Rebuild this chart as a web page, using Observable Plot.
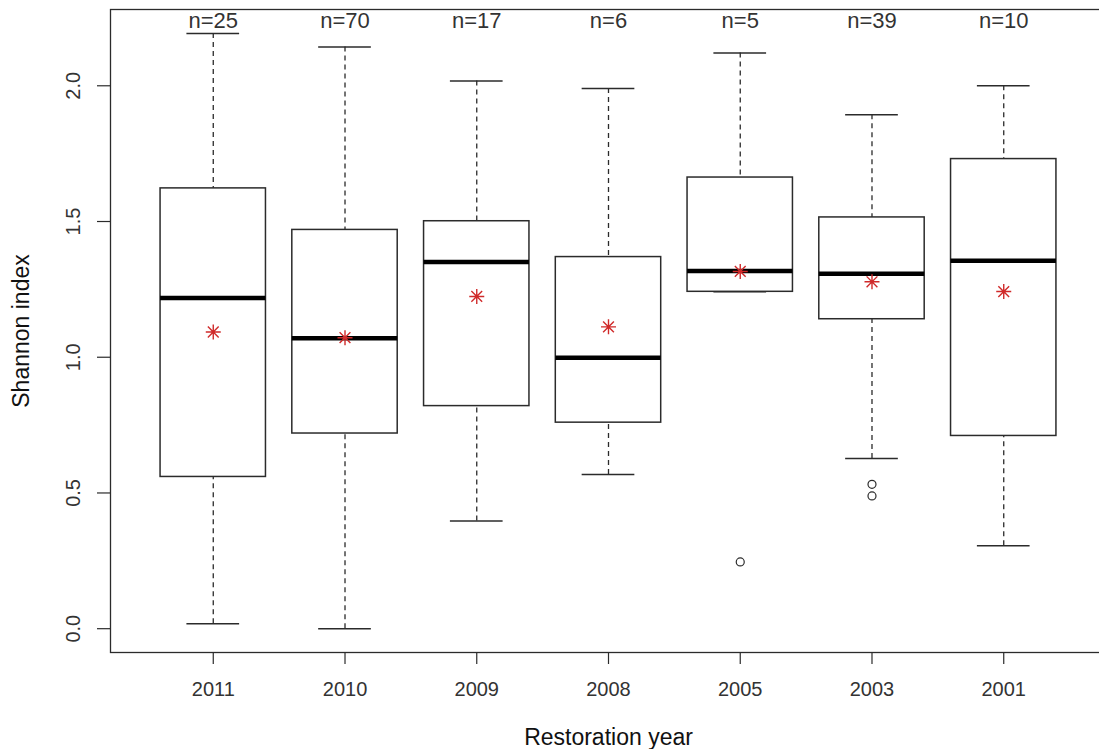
<!DOCTYPE html>
<html>
<head>
<meta charset="utf-8">
<script src="https://cdn.jsdelivr.net/npm/d3@7"></script>
<script src="https://cdn.jsdelivr.net/npm/@observablehq/plot@0.6"></script>
<style>
  html, body { margin: 0; padding: 0; background: white; overflow: hidden; }
  #chart svg { overflow: hidden; }
</style>
</head>
<body>
<div id="chart"></div>
<script>
// ---- data ----
const years = ["2011", "2010", "2009", "2008", "2005", "2003", "2001"];
const counts = [25, 70, 17, 6, 5, 39, 10];
const whiskerLow = [0.018, 0.0, 0.397, 0.568, 1.241, 0.627, 0.306];
const q1 = [0.559, 0.719, 0.820, 0.759, 1.241, 1.140, 0.710];
const medians = [1.218, 1.070, 1.351, 0.998, 1.318, 1.308, 1.355];
const q3 = [1.622, 1.469, 1.501, 1.369, 1.662, 1.515, 1.730];
const whiskerHigh = [2.193, 2.143, 2.018, 1.990, 2.121, 1.893, 2.000];
const means = [1.093, 1.072, 1.224, 1.112, 1.316, 1.278, 1.242];
const outlierYears = ["2005", "2003", "2003"];
const outlierValues = [0.246, 0.532, 0.489];
const yTicks = [0, 0.5, 1.0, 1.5, 2.0];

// ---- tables built from the arrays ----
const rows = years.map((y, i) => ({
  pos: i + 1, year: y, n: counts[i],
  lo: whiskerLow[i], q1: q1[i], med: medians[i], q3: q3[i], hi: whiskerHigh[i], mean: means[i]
}));
const outliers = outlierYears.map((y, i) => ({pos: years.indexOf(y) + 1, v: outlierValues[i]}));
const positions = rows.map(d => d.pos);

const ink = "#2b2b2b";
const textInk = "#333";
const red = "#d02a2a";
const font = "'Liberation Sans', Arial, Helvetica, sans-serif";
const fsTick = 20;
const fsN = 22;
const fsTitle = 23;
const mid = {textAnchor: "middle", lineAnchor: "middle"};

// R pch=8 style asterisk (plus + cross)
const rStar = {
  draw(context, size) {
    const r = Math.sqrt(size / Math.PI);
    const d = r * 0.72;
    context.moveTo(-r, 0); context.lineTo(r, 0);
    context.moveTo(0, -r); context.lineTo(0, r);
    context.moveTo(-d, -d); context.lineTo(d, d);
    context.moveTo(-d, d); context.lineTo(d, -d);
  }
};

const chart = Plot.plot({
  width: 1099,
  height: 749,
  marginLeft: 110,
  marginRight: -7,
  marginTop: 9,
  marginBottom: 97,
  style: {fontFamily: font, fontSize: fsTick + "px", background: "white", color: textInk},
  x: {type: "linear", domain: [0.22, 7.78], axis: null},
  y: {type: "linear", domain: [-0.0877, 2.281], axis: null},
  marks: [
    // axis ticks
    Plot.axisY(yTicks, {tickSize: 13, tickFormat: () => "", stroke: ink, label: null, strokeWidth: 1.2}),
    Plot.axisX(positions, {tickSize: 12, tickFormat: () => "", stroke: ink, label: null, strokeWidth: 1.2}),
    // whiskers (dashed)
    Plot.ruleX(rows, {x: "pos", y1: "hi", y2: "q3", stroke: ink, strokeWidth: 1.3, strokeDasharray: "5,4"}),
    Plot.ruleX(rows, {x: "pos", y1: "lo", y2: "q1", stroke: ink, strokeWidth: 1.3, strokeDasharray: "5,4"}),
    // staples
    Plot.ruleY(rows, {y: "hi", x1: d => d.pos - 0.2, x2: d => d.pos + 0.2, stroke: ink, strokeWidth: 1.5}),
    Plot.ruleY(rows, {y: "lo", x1: d => d.pos - 0.2, x2: d => d.pos + 0.2, stroke: ink, strokeWidth: 1.5}),
    // boxes
    Plot.rect(rows, {x1: d => d.pos - 0.4, x2: d => d.pos + 0.4, y1: "q1", y2: "q3", fill: "white", stroke: ink, strokeWidth: 1.5}),
    // medians
    Plot.ruleY(rows, {y: "med", x1: d => d.pos - 0.4, x2: d => d.pos + 0.4, stroke: "#000", strokeWidth: 4.5}),
    // outliers
    Plot.dot(outliers, {x: "pos", y: "v", r: 4, stroke: ink, fill: "none", strokeWidth: 1.2}),
    // means
    Plot.dot(rows, {x: "pos", y: "mean", symbol: rStar, r: 7.5, stroke: red, strokeWidth: 1.4}),
    // frame
    Plot.frame({stroke: ink, strokeWidth: 1.3}),
    // y tick labels (rotated, as in R)
    Plot.text(yTicks, {y: d => d, frameAnchor: "left", dx: -37, rotate: -90, text: d => d.toFixed(1), fill: textInk, fontSize: fsTick, ...mid}),
    // x tick labels
    Plot.text(rows, {x: "pos", frameAnchor: "bottom", dy: 37, text: "year", fill: textInk, fontSize: fsTick, ...mid}),
    // n labels
    Plot.text(rows, {x: "pos", frameAnchor: "top", dy: 11, text: d => "n=" + d.n, fill: textInk, fontSize: fsN, ...mid}),
    // axis titles
    Plot.text(["Shannon index"], {frameAnchor: "left", dx: -89, rotate: -90, text: d => d, fill: "#111", fontSize: fsTitle, ...mid}),
    Plot.text(["Restoration year"], {frameAnchor: "bottom", dy: 85, text: d => d, fill: "#111", fontSize: fsTitle, ...mid})
  ]
});
document.getElementById("chart").appendChild(chart);
</script>
</body>
</html>
